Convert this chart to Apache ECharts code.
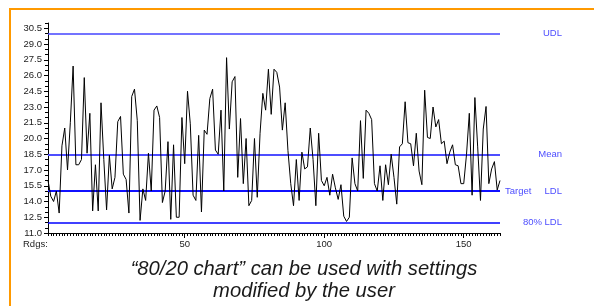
<!DOCTYPE html>
<html>
<head>
<meta charset="utf-8">
<script src="https://cdn.jsdelivr.net/npm/echarts@6/dist/echarts.min.js"></script>
<style>
  html, body { margin: 0; padding: 0; background: #fff; }
  #chart { width: 594px; height: 306px; }
</style>
</head>
<body>
<div id="chart"></div>
<script>
// readings, one per sample
const readings = [
  16.0, 14.5, 14.0, 15.0, 12.9, 19.3, 21.0, 17.0, 21.5, 26.9,
  17.5, 17.5, 18.0, 25.8, 18.6, 22.4, 13.1, 17.5, 13.1, 23.4,
  18.0, 13.2, 18.4, 15.2, 16.3, 21.6, 22.1, 16.6, 16.1, 12.9,
  24.0, 24.7, 21.7, 12.2, 15.2, 14.1, 18.6, 15.0, 22.7, 23.1,
  22.0, 13.9, 15.0, 19.7, 12.3, 19.4, 12.5, 12.5, 22.0, 17.6,
  24.5, 21.4, 14.6, 14.1, 20.3, 13.0, 20.8, 20.4, 23.8, 24.7,
  18.9, 18.5, 22.7, 15.0, 27.7, 20.9, 25.4, 25.9, 16.3, 21.9,
  15.7, 20.0, 13.6, 14.1, 20.0, 14.4, 20.5, 24.3, 22.7, 26.6,
  22.3, 26.6, 26.3, 24.9, 20.8, 23.4, 18.85, 15.7, 13.6, 18.0,
  14.1, 18.7, 17.1, 17.3, 21.0, 18.0, 13.6, 20.5, 16.0, 15.5,
  16.3, 14.6, 16.6, 15.3, 14.2, 15.6, 12.6, 12.1, 12.5, 18.15,
  15.7, 15.0, 21.7, 16.2, 22.7, 22.4, 21.8, 15.7, 15.0, 17.4,
  14.1, 17.5, 15.6, 18.5, 16.3, 13.75, 19.2, 19.5, 23.5, 19.6,
  19.5, 17.4, 20.5, 16.9, 15.6, 24.6, 20.1, 20.0, 23.0, 21.1,
  21.8, 19.5, 19.75, 17.6, 18.7, 19.4, 17.5, 17.4, 15.7, 15.7,
  18.5, 22.4, 14.6, 23.9, 19.2, 14.1, 20.9, 23.05, 15.7, 17.1,
  17.8, 15.1, 16.0
];

// limit lines
const limitNames = ['UDL', 'Mean', 'Target LDL', '80% LDL'];
const limitValues = [30, 18.5, 15, 12];

// tick labels
const yLabels = [11.0, 12.5, 14.0, 15.5, 17.0, 18.5, 20.0, 21.5, 23.0, 24.5, 26.0, 27.5, 29.0, 30.5];
const xLabels = [50, 100, 150];

const yMinor = [];
for (let v = 11; v <= 31.001; v += 0.5) yMinor.push(+v.toFixed(1));
const xMinor = readings.map((v, i) => i + 1);

const blue = '#4d4dff';
const lineStyles = [
    { color: '#4444ff', width: 1.5 },
    { color: '#4d4dff', width: 2 },
    { color: '#1010ff', width: 2 },
    { color: '#0000ff', width: 1.5 }
];
const labelText = [
    '{r|UDL}',
    '{r|Mean}',
    '{l|Target}{r|LDL}',
    '{r|80% LDL}'
];

const font = 'Liberation Sans, Arial, sans-serif';

const chart = echarts.init(document.getElementById('chart'));

const option = {
    backgroundColor: '#fff',
    animation: false,
    title: {
        text: '\u201c80/20 chart\u201d can be used with settings\nmodified by the user',
        left: 299,
        top: 253,
        textAlign: 'center',
        textStyle: {
            fontFamily: font,
            fontStyle: 'italic',
            fontWeight: 'normal',
            fontSize: 20.2,
            lineHeight: 22,
            color: '#1a1a1a'
        }
    },
    grid: { left: 48, right: 94, top: 23, bottom: 73 },
    xAxis: [{
        type: 'value',
        min: 1,
        max: readings.length,
        position: 'bottom',
        axisLine: { lineStyle: { color: '#000', width: 1 } },
        axisTick: { customValues: xLabels, length: 5, lineStyle: { color: '#000' } },
        axisLabel: { customValues: xLabels, margin: 6, fontSize: 9.5, fontFamily: font, color: '#222' },
        splitLine: { show: false }
    }, {
        type: 'value',
        min: 1,
        max: readings.length,
        position: 'bottom',
        axisLine: { show: false },
        axisTick: { customValues: xMinor, length: 3, lineStyle: { color: '#000' } },
        axisLabel: { show: false },
        splitLine: { show: false }
    }],
    yAxis: [{
        type: 'value',
        min: 11,
        max: 31,
        position: 'left',
        axisLine: { show: true, lineStyle: { color: '#000', width: 1 } },
        axisTick: { show: true, customValues: yLabels, length: 4, lineStyle: { color: '#000' } },
        axisLabel: {
            customValues: yLabels,
            margin: 6,
            fontSize: 9.5,
            fontFamily: font,
            color: '#222',
            formatter: v => v.toFixed(1)
        },
        splitLine: { show: false }
    }, {
        type: 'value',
        min: 11,
        max: 31,
        position: 'left',
        axisLine: { show: false },
        axisTick: { show: true, customValues: yMinor, length: 3, lineStyle: { color: '#000' } },
        axisLabel: { show: false },
        splitLine: { show: false }
    }],
    series: [{
        type: 'line',
        xAxisIndex: 0,
        yAxisIndex: 0,
        data: readings.map((v, i) => [i + 1, v]),
        symbol: 'none',
        lineStyle: { color: '#000', width: 1 },
        z: 3,
        markLine: {
            silent: true,
            symbol: 'none',
            z: 2,
            label: {
                position: 'end',
                distance: 5,
                width: 57,
                color: blue,
                fontFamily: font,
                fontSize: 9.5,
                rich: {
                    l: { align: 'left', color: blue, fontFamily: font, fontSize: 9.5 },
                    r: { align: 'right', color: blue, fontFamily: font, fontSize: 9.5 }
                }
            },
            data: limitValues.map((v, k) => ({
                name: limitNames[k],
                yAxis: v,
                lineStyle: { type: 'solid', color: lineStyles[k].color, width: lineStyles[k].width },
                label: { formatter: labelText[k] }
            }))
        }
    }],
    graphic: [{
        type: 'polyline',
        shape: { points: [[10, 306], [10, 9], [594, 9]] },
        style: { stroke: '#ff9900', lineWidth: 2, fill: null },
        silent: true
    }, {
        type: 'text',
        left: 23,
        top: 239,
        style: { text: 'Rdgs:', fontSize: 9.5, fontFamily: font, fill: '#222' },
        silent: true
    }]
};

chart.setOption(option);
</script>
</body>
</html>
